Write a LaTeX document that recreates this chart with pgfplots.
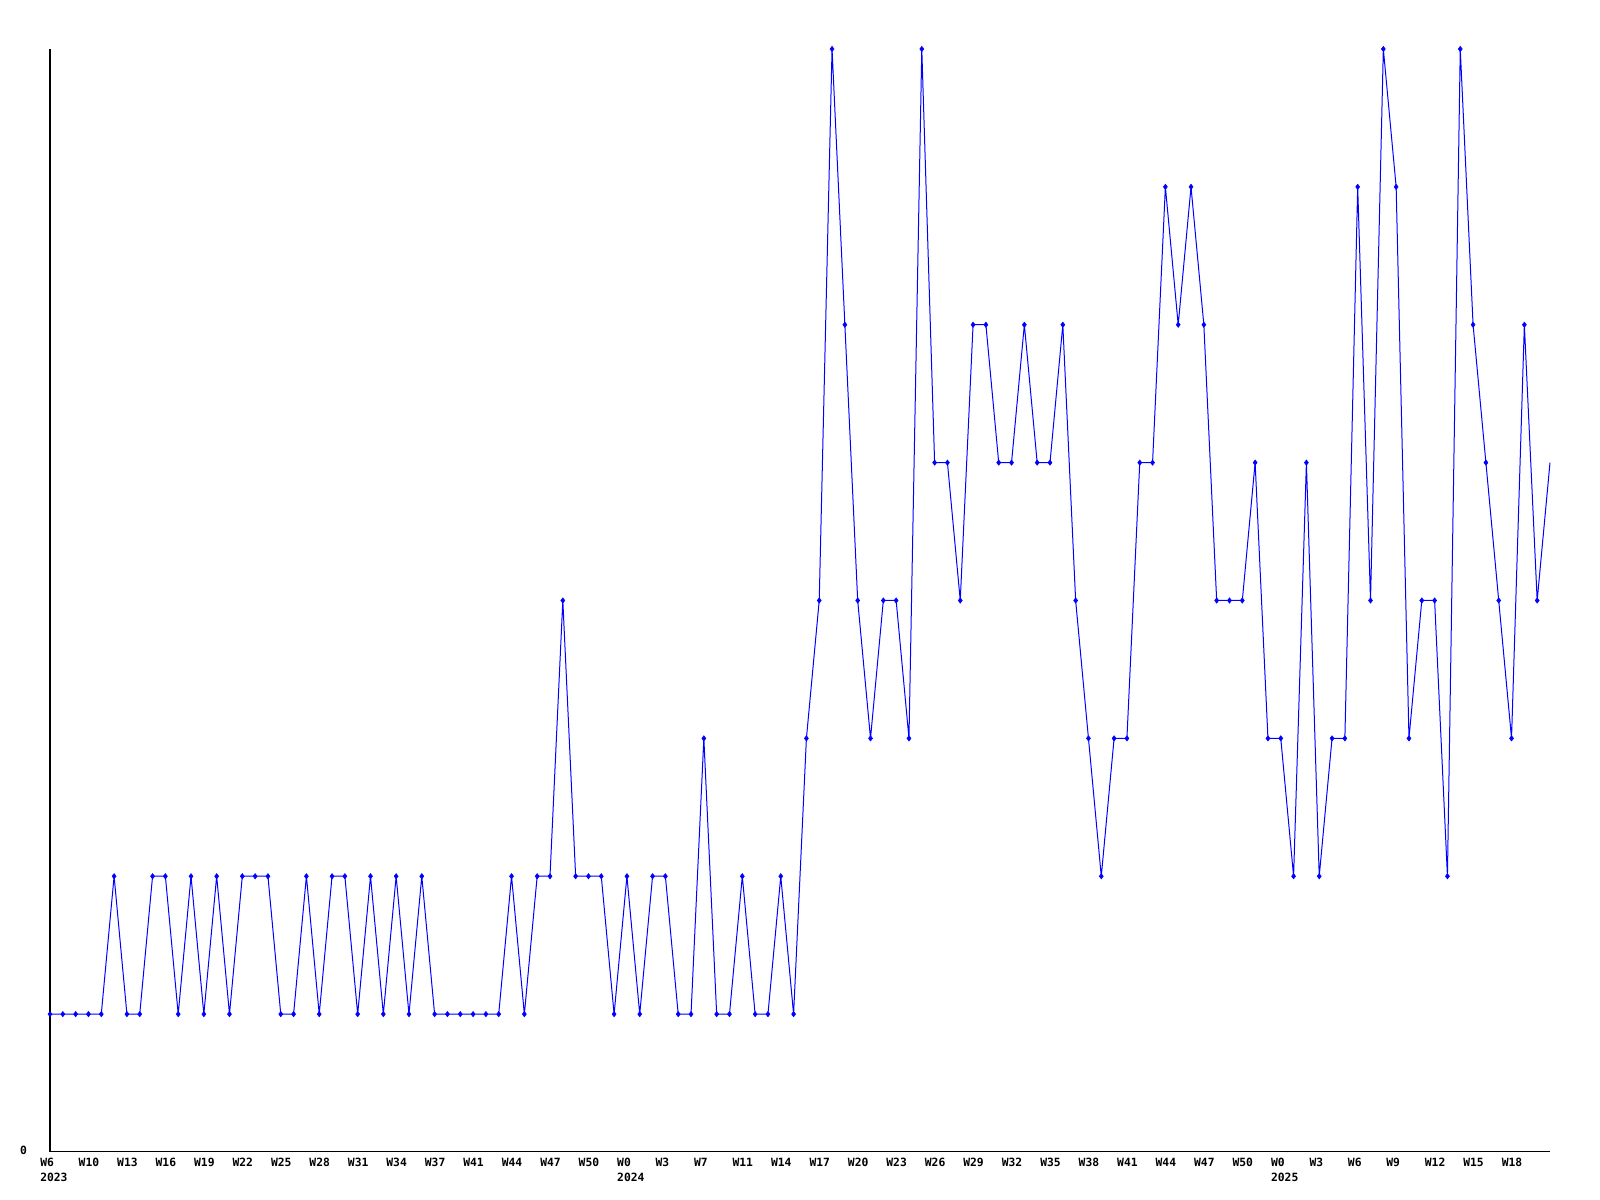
\documentclass[border=0pt]{standalone}
\usepackage{fontspec}
\setmainfont{DejaVu Sans Mono}
\usepackage{pgfplots}
\usepackage{pgfplotstable}
\pgfplotsset{compat=1.18}
\definecolor{lineblue}{RGB}{0,0,255}
\pgfplotstableread{
x y
0 1
1 1
2 1
3 1
4 1
5 2
6 1
7 1
8 2
9 2
10 1
11 2
12 1
13 2
14 1
15 2
16 2
17 2
18 1
19 1
20 2
21 1
22 2
23 2
24 1
25 2
26 1
27 2
28 1
29 2
30 1
31 1
32 1
33 1
34 1
35 1
36 2
37 1
38 2
39 2
40 4
41 2
42 2
43 2
44 1
45 2
46 1
47 2
48 2
49 1
50 1
51 3
52 1
53 1
54 2
55 1
56 1
57 2
58 1
59 3
60 4
61 8
62 6
63 4
64 3
65 4
66 4
67 3
68 8
69 5
70 5
71 4
72 6
73 6
74 5
75 5
76 6
77 5
78 5
79 6
80 4
81 3
82 2
83 3
84 3
85 5
86 5
87 7
88 6
89 7
90 6
91 4
92 4
93 4
94 5
95 3
96 3
97 2
98 5
99 2
100 3
101 3
102 7
103 4
104 8
105 7
106 3
107 4
108 4
109 2
110 8
111 6
112 5
113 4
114 3
115 6
116 4
117 5
}\datatable
\begin{document}
\begin{tikzpicture}
\useasboundingbox (-37.5pt,-36pt) rectangle (1162.5pt,864pt);
\begin{axis}[
  at={(0,0)}, anchor=south west,
  scale only axis,
  width=1125pt, height=827.25pt,
  xmin=0, xmax=117, ymin=0, ymax=8,
  enlargelimits=false,
  clip=false,
  axis lines*=left,
  axis line style={-, line width=0.75pt, black},
  major tick length=0pt,
  xtick={0,3,...,114},
  xticklabels={{W6\\2023},W10,W13,W16,W19,W22,W25,W28,W31,W34,W37,W41,W44,W47,W50,{W0\\2024},W3,W7,W11,W14,W17,W20,W23,W26,W29,W32,W35,W38,W41,W44,W47,W50,{W0\\2025},W3,W6,W9,W12,W15,W18},
  xticklabel style={anchor=north west, inner sep=0pt, xshift=-7.5pt, yshift=-4.5pt, align=left, font=\bfseries\fontsize{8.5}{10.9}\selectfont},
  ytick={0},
  yticklabels={0},
  yticklabel style={anchor=east, inner sep=0pt, xshift=-17pt, yshift=1pt, font=\bfseries\fontsize{8.5}{10.9}\selectfont},
]
\addplot[lineblue, line width=0.75pt, no marks] table[x=x, y=y] {\datatable};
\addplot[lineblue, only marks, mark=diamond*, mark size=2pt, restrict x to domain=0:116] table[x=x, y=y] {\datatable};
\end{axis}
\end{tikzpicture}
\end{document}
